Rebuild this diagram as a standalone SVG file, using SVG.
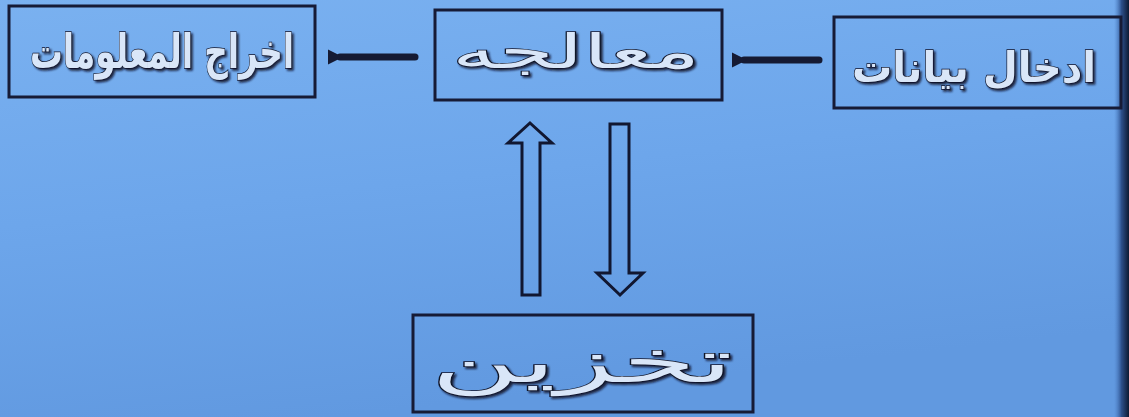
<svg xmlns="http://www.w3.org/2000/svg" width="1129" height="417" viewBox="0 0 1129 417">
  <defs>
    <linearGradient id="bg" x1="0" y1="0" x2="0.3" y2="1">
      <stop offset="0" stop-color="#7ab1f0"/>
      <stop offset="0.5" stop-color="#6da6eb"/>
      <stop offset="1" stop-color="#6199e0"/>
    </linearGradient>
    <linearGradient id="edge" x1="0" y1="0" x2="1" y2="0">
      <stop offset="0" stop-color="#4a7cc4" stop-opacity="0"/>
      <stop offset="0.5" stop-color="#2c4f8a"/>
      <stop offset="1" stop-color="#0d1a33"/>
    </linearGradient>
    <filter id="shadow" x="-20%" y="-50%" width="140%" height="200%">
      <feDropShadow dx="2" dy="2" stdDeviation="1" flood-color="#0a0f25" flood-opacity="0.85"/>
    </filter>
    <marker id="head" viewBox="0 0 10 10" refX="2" refY="5" markerWidth="2.2" markerHeight="2.2" orient="auto-start-reverse">
      <path d="M0,5 L10,0 L10,10 Z" fill="#151a33"/>
    </marker>
  </defs>
  <style>
    .box { fill: none; stroke: #161b36; stroke-width: 3; }
    .lbl { font-family: "DejaVu Sans", sans-serif; fill: #d9e6f8; stroke: #0f1428; stroke-width: 1.4; paint-order: stroke; text-anchor: middle; filter: url(#shadow); }
    .b { font-weight: bold; }
    .n { font-weight: normal; }
    .blk { fill: none; stroke: #111731; stroke-width: 3; stroke-linejoin: miter; }
    .hline { stroke: #151a33; stroke-width: 7; stroke-linecap: round; }
  </style>

  <rect x="0" y="0" width="1129" height="417" fill="url(#bg)"/>
  <rect x="1114" y="0" width="15" height="417" fill="url(#edge)"/>

  <g id="node-output">
    <rect class="box" x="9" y="6" width="306" height="91"/>
    <text class="lbl b" x="162" y="68" font-size="48" textLength="264" lengthAdjust="spacingAndGlyphs" direction="rtl">اخراج المعلومات</text>
  </g>

  <g id="node-processing">
    <rect class="box" x="435" y="10" width="287" height="90"/>
    <text class="lbl n" x="576" y="68" font-size="48" textLength="248" lengthAdjust="spacingAndGlyphs" direction="rtl">معالجه</text>
  </g>

  <g id="node-input">
    <rect class="box" x="834" y="17" width="287" height="91"/>
    <text class="lbl b" x="974" y="82" font-size="42" textLength="244" lengthAdjust="spacingAndGlyphs" direction="rtl">ادخال بيانات</text>
  </g>

  <g id="node-storage">
    <rect class="box" x="413" y="315" width="340" height="97"/>
    <text class="lbl n" x="582" y="382" font-size="58" textLength="302" lengthAdjust="spacingAndGlyphs" direction="rtl">تخزين</text>
  </g>

  <g id="connectors">
    <line class="hline" x1="415" y1="57" x2="340" y2="57" marker-end="url(#head)"/>
    <line class="hline" x1="819" y1="60" x2="744" y2="60" marker-end="url(#head)"/>
    <polygon class="blk" points="530,123 552,143 540,143 540,295 522,295 522,143 508,143"/>
    <polygon class="blk" points="610,124 629,124 629,273 643,273 620,295 597,273 610,273"/>
  </g>
</svg>
